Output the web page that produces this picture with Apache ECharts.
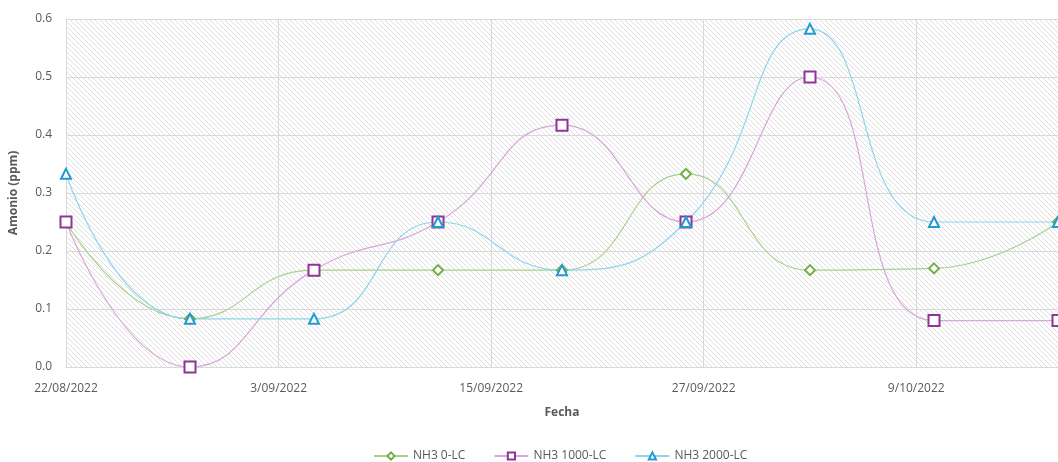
<!DOCTYPE html>
<html>
<head>
<meta charset="utf-8">
<script src="https://cdn.jsdelivr.net/npm/echarts@6/dist/echarts.min.js"></script>
<style>
  html, body { margin: 0; padding: 0; background: #fff; }
  #chart { width: 1058px; height: 462px; }
</style>
</head>
<body>
<div id="chart"></div>
<script>
// fechas de muestreo (semanal)
const dates = ['2022-08-22', '2022-08-29', '2022-09-05', '2022-09-12', '2022-09-19',
               '2022-09-26', '2022-10-03', '2022-10-10', '2022-10-17'];
const nh3_0 = [0.25, 0.083, 0.167, 0.167, 0.167, 0.333, 0.167, 0.17, 0.25];
const nh3_1000 = [0.25, 0.0, 0.167, 0.25, 0.417, 0.25, 0.5, 0.08, 0.08];
const nh3_2000 = [0.333, 0.083, 0.083, 0.25, 0.167, 0.25, 0.583, 0.25, 0.25];
const seriesNames = ['NH3 0-LC', 'NH3 1000-LC', 'NH3 2000-LC'];

const DAY = 86400000;
const start = Date.UTC(2022, 7, 22);
const toDay = s => {
  const [y, m, d] = s.split('-').map(Number);
  return Math.round((Date.UTC(y, m - 1, d) - start) / DAY);
};
const dayLabel = v => {
  const d = new Date(start + v * DAY);
  return d.getUTCDate() + '/' + String(d.getUTCMonth() + 1).padStart(2, '0') + '/' + d.getUTCFullYear();
};
const days = dates.map(toDay);
const pairs = vals => days.map((d, i) => [d, vals[i]]);

// fondo rayado del area de trazado
const hatch = document.createElement('canvas');
hatch.width = 5; hatch.height = 5;
const hc = hatch.getContext('2d');
hc.fillStyle = '#ffffff';
hc.fillRect(0, 0, 5, 5);
hc.strokeStyle = '#dedede';
hc.lineWidth = 1;
hc.beginPath();
hc.moveTo(-1, -1); hc.lineTo(6, 6);
hc.moveTo(-1, 4); hc.lineTo(1, 6);
hc.moveTo(4, -1); hc.lineTo(6, 1);
hc.stroke();

const chart = echarts.init(document.getElementById('chart'));

const mkSeries = (name, data, lineColor, markColor, symbol, size) => ({
  name: name,
  type: 'line',
  data: data,
  smooth: 0.5,
  symbol: symbol,
  symbolSize: size,
  showAllSymbol: true,
  lineStyle: { color: lineColor, width: 1.2 },
  itemStyle: { color: '#ffffff', borderColor: markColor, borderWidth: 2 },
  emphasis: { disabled: true }
});

const option = {
  animation: false,
  textStyle: { fontFamily: 'Open Sans, sans-serif' },
  grid: {
    left: 65, right: 0, top: 19, bottom: 95,
    show: true,
    backgroundColor: { image: hatch, repeat: 'repeat' },
    borderWidth: 0
  },
  legend: {
    top: 445,
    left: 368,
    itemWidth: 34,
    itemHeight: 9,
    itemGap: 28,
    data: seriesNames,
    textStyle: { color: '#595959', fontSize: 12 }
  },
  xAxis: {
    type: 'value',
    min: 0,
    max: 56,
    interval: 12,
    name: 'Fecha',
    nameLocation: 'middle',
    nameGap: 40,
    nameTextStyle: { color: '#595959', fontSize: 12, fontWeight: 'bold' },
    axisLine: { show: true, lineStyle: { color: '#d9d9d9' } },
    axisTick: { show: false },
    axisLabel: {
      color: '#595959', fontSize: 12, margin: 16,
      showMaxLabel: false,
      formatter: v => dayLabel(v)
    },
    splitLine: { show: true, lineStyle: { color: '#d9d9d9' } }
  },
  yAxis: {
    type: 'value',
    min: 0,
    max: 0.6,
    interval: 0.1,
    name: 'Amonio (ppm)',
    nameLocation: 'middle',
    nameGap: 46,
    nameTextStyle: { color: '#595959', fontSize: 12, fontWeight: 'bold' },
    axisLine: { show: true, lineStyle: { color: '#d9d9d9' } },
    axisTick: { show: false },
    axisLabel: { color: '#595959', fontSize: 12, margin: 14, formatter: v => v.toFixed(1) },
    splitLine: { show: true, lineStyle: { color: '#d9d9d9' } }
  },
  series: [
    mkSeries(seriesNames[0], pairs(nh3_0), '#a9d18e', '#70ad47', 'diamond', 10),
    mkSeries(seriesNames[1], pairs(nh3_1000), '#d9a6da', '#8e3596', 'rect', 11),
    mkSeries(seriesNames[2], pairs(nh3_2000), '#8fd4ec', '#1f9bd1', 'triangle', 10)
  ]
};

chart.setOption(option);
</script>
</body>
</html>
